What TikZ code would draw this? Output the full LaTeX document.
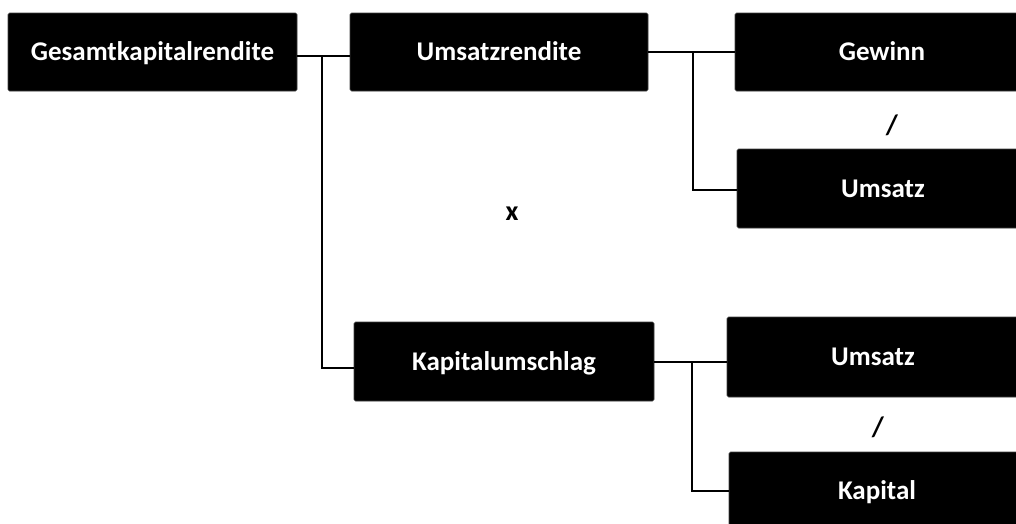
\documentclass[tikz,border=0pt]{standalone}
\usepackage{fontspec}
\setmainfont{Carlito}
\begin{document}
\begin{tikzpicture}[x=1pt,y=-1pt,
  box/.style={fill=black, draw=black!75, line width=0.6pt, rounded corners=1.5pt,
    text=white, font=\bfseries\fontsize{27}{31}\selectfont, inner sep=0pt,
    text height=17.3pt, text depth=0pt, minimum height=78pt},
  conn/.style={line width=2pt, draw=black},
  op/.style={font=\bfseries\fontsize{28}{32}\selectfont, inner sep=0pt}]
\useasboundingbox (0,0) rectangle (1016,523);

\node[box, minimum width=289pt] (g) at (152.5,52) {Gesamtkapitalrendite};
\node[box, minimum width=298pt] (u) at (499,52) {Umsatzrendite};
\node[box, minimum width=300pt, minimum height=79pt] (k) at (504,361.5) {Kapitalumschlag};
\node[box, minimum width=294pt] (gw) at (882,52) {Gewinn};
\node[box, minimum width=292pt, minimum height=79pt] (us1) at (883,188.5) {Umsatz};
\node[box, minimum width=292pt, minimum height=80pt] (us2) at (873,357) {Umsatz};
\node[box, minimum width=296pt] (kp) at (877,491) {Kapital};

\coordinate (j1) at (322,56);
\coordinate (j2) at (693,52);
\coordinate (j3) at (692,362);

\draw[conn] (g.east |- j1) -- (u.west |- j1);
\draw[conn] (j1) |- ([yshift=-6.5pt]k.west);
\draw[conn] (u.east |- j2) -- (gw.west |- j2);
\draw[conn] (j2) |- ([yshift=-1.5pt]us1.west);
\draw[conn] (k.east |- j3) -- (us2.west |- j3);
\draw[conn] (j3) |- (kp.west);

\node[op] (d1) at (892,125) {/};
\node[op] (d2) at (878,427) {/};
\node[op] (x) at (512,214) {x};
\end{tikzpicture}
\end{document}
